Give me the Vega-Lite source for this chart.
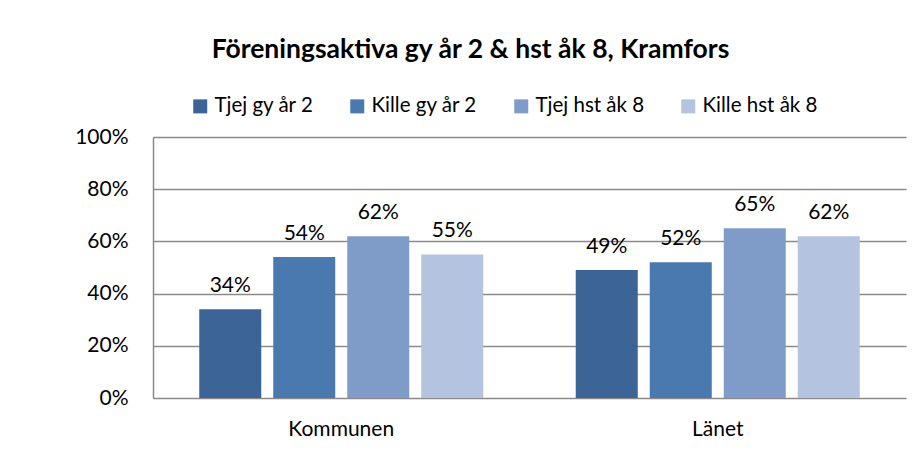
{
  "$schema": "https://vega.github.io/schema/vega-lite/v6.json",
  "width": 753,
  "height": 261,
  "autosize": {"type": "none"},
  "padding": {"left": 153, "top": 137, "right": 16, "bottom": 62},
  "background": "white",
  "title": {
    "text": "Föreningsaktiva gy år 2 & hst åk 8, Kramfors",
    "font": "Lato",
    "fontSize": 26.5,
    "fontWeight": "bold",
    "color": "#000000",
    "anchor": "middle",
    "frame": "group",
    "dx": -59,
    "offset": 33
  },
  "config": {"view": {"stroke": null}},
  "data": {
    "values": [
      {"omrade": "Kommunen", "grupp": "Tjej gy år 2", "andel": 0.34},
      {"omrade": "Kommunen", "grupp": "Kille gy år 2", "andel": 0.54},
      {"omrade": "Kommunen", "grupp": "Tjej hst åk 8", "andel": 0.62},
      {"omrade": "Kommunen", "grupp": "Kille hst åk 8", "andel": 0.55},
      {"omrade": "Länet", "grupp": "Tjej gy år 2", "andel": 0.49},
      {"omrade": "Länet", "grupp": "Kille gy år 2", "andel": 0.52},
      {"omrade": "Länet", "grupp": "Tjej hst åk 8", "andel": 0.65},
      {"omrade": "Länet", "grupp": "Kille hst åk 8", "andel": 0.62}
    ]
  },
  "encoding": {
    "x": {
      "field": "omrade",
      "type": "nominal",
      "sort": ["Kommunen", "Länet"],
      "scale": {"paddingInner": 0, "paddingOuter": 0},
      "axis": {
        "title": null,
        "labelAngle": 0,
        "domain": false,
        "ticks": false,
        "grid": false,
        "labelPadding": 20,
        "labelFont": "Lato",
        "labelFontSize": 21,
        "labelColor": "#000000"
      }
    },
    "xOffset": {
      "field": "grupp",
      "type": "nominal",
      "sort": ["Tjej gy år 2", "Kille gy år 2", "Tjej hst åk 8", "Kille hst åk 8"],
      "scale": {"paddingInner": 0.162, "paddingOuter": 0.625}
    },
    "y": {
      "field": "andel",
      "type": "quantitative",
      "scale": {"domain": [0, 1]},
      "axis": {
        "title": null,
        "values": [0, 0.2, 0.4, 0.6, 0.8, 1],
        "format": ".0%",
        "grid": true,
        "gridColor": "#8a8a8a",
        "gridWidth": 1.5,
        "domain": true,
        "domainColor": "#8a8a8a",
        "domainWidth": 1.5,
        "ticks": false,
        "labelPadding": 25,
        "labelFont": "Lato",
        "labelFontSize": 21,
        "labelColor": "#000000"
      }
    }
  },
  "layer": [
    {
      "mark": {"type": "bar"},
      "encoding": {
        "color": {
          "field": "grupp",
          "type": "nominal",
          "sort": ["Tjej gy år 2", "Kille gy år 2", "Tjej hst åk 8", "Kille hst åk 8"],
          "scale": {
            "domain": ["Tjej gy år 2", "Kille gy år 2", "Tjej hst åk 8", "Kille hst åk 8"],
            "range": ["#3c6496", "#4a79b0", "#7f9cc8", "#b4c3df"]
          },
          "legend": {
            "title": null,
            "orient": "none",
            "legendX": 37,
            "legendY": -41,
            "direction": "horizontal",
            "columns": 4,
            "symbolType": "square",
            "symbolSize": 196,
            "symbolStrokeWidth": 0,
            "labelFont": "Lato",
            "labelFontSize": 20.5,
            "labelColor": "#000000",
            "labelOffset": 4,
            "columnPadding": 33,
            "padding": 0
          }
        }
      }
    },
    {
      "mark": {
        "type": "text",
        "baseline": "alphabetic",
        "dy": -17,
        "font": "Lato",
        "fontSize": 21,
        "color": "#000000"
      },
      "encoding": {
        "text": {"field": "andel", "type": "quantitative", "format": ".0%"}
      }
    }
  ]
}
